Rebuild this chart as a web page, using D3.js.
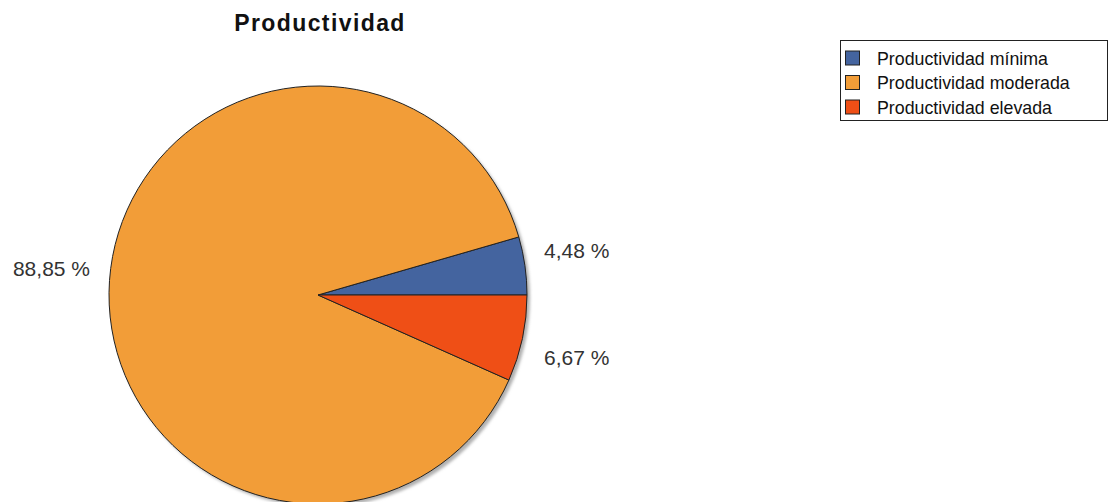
<!DOCTYPE html>
<html><head><meta charset="utf-8">
<script src="https://cdn.jsdelivr.net/npm/d3@7"></script>
<style>body{margin:0;background:#fff;}svg{display:block;}</style>
</head><body>
<svg id="c" width="1116" height="502"></svg>
<script>
const title = "Productividad";
const categories = ["Productividad mínima", "Productividad moderada", "Productividad elevada"];
const values = [4.48, 88.85, 6.67];
const labels = ["4,48 %", "88,85 %", "6,67 %"];
const colors = ["#44649f", "#f29d38", "#ef4f16"];

const svg = d3.select("#c");
const cx = 318, cy = 295, r = 209;
const FONT = "Liberation Sans, Arial, sans-serif";

svg.append("text").attr("x", 320).attr("y", 31).attr("text-anchor", "middle")
  .attr("font-family", FONT).attr("font-weight", "bold")
  .attr("font-size", 23).attr("letter-spacing", 1.4).attr("fill", "#111").text(title);

// Pie: starts at 3 o'clock going counter-clockwise
const start = Math.PI / 2;
const pie = d3.pie().sort(null).value(d => d)
  .startAngle(start).endAngle(start - 2 * Math.PI);
const arcs = pie(values);
const arc = d3.arc().innerRadius(0).outerRadius(r);

const defs = svg.append("defs");
defs.append("filter").attr("id", "blur").append("feGaussianBlur").attr("stdDeviation", 1.5);

const g = svg.append("g").attr("transform", `translate(${cx},${cy})`);
g.append("circle").attr("cx", 3).attr("cy", 3).attr("r", r).attr("fill", "#b0b0b0").attr("filter", "url(#blur)");
g.selectAll("path.s").data(arcs).join("path").attr("class", "s")
  .attr("d", arc).attr("fill", (d, i) => colors[i])
  .attr("stroke", "#222").attr("stroke-width", 1).attr("stroke-linejoin", "round");

const labelArc = d3.arc().innerRadius(r + 53).outerRadius(r + 53);
g.selectAll("text.l").data(arcs).join("text").attr("class", "l")
  .each(function(d) {
    const [x, y] = labelArc.centroid(d);
    const right = x > 0;
    d3.select(this)
      .attr("x", right ? r + 17 : -r - 19)
      .attr("y", y + Math.sign(y) * 8)
      .attr("text-anchor", right ? "start" : "end");
  })
  .attr("dy", "0.35em")
  .attr("font-family", FONT).attr("font-size", 21)
  .attr("fill", "#333").text((d, i) => labels[i]);

// Legend
const lg = svg.append("g");
lg.append("rect").attr("x", 840.5).attr("y", 40.5).attr("width", 267).attr("height", 80)
  .attr("fill", "#fff").attr("stroke", "#222").attr("stroke-width", 1);
const rows = lg.selectAll("g.r").data(categories).join("g").attr("class", "r")
  .attr("transform", (d, i) => `translate(0,${58.5 + i * 24.5})`);
rows.append("rect").attr("x", 845.5).attr("y", -7.5).attr("width", 14).attr("height", 14)
  .attr("fill", (d, i) => colors[i]).attr("stroke", "#222");
rows.append("text").attr("x", 877).attr("y", 0).attr("dy", "0.35em")
  .attr("font-family", FONT).attr("font-size", 17.8)
  .attr("fill", "#111").text(d => d);
</script>
</body></html>
